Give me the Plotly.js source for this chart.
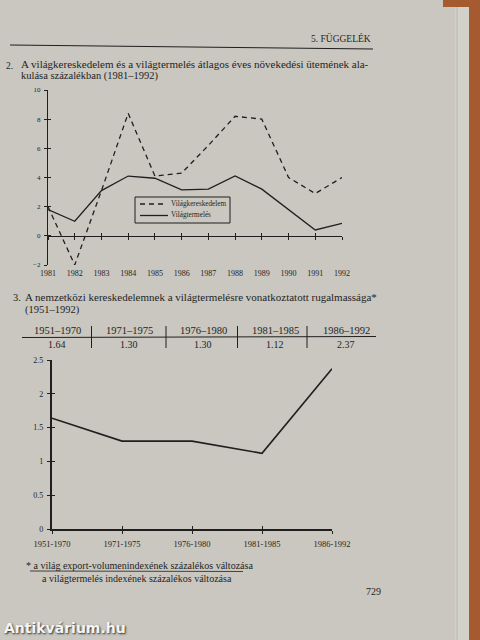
<!DOCTYPE html>
<html>
<head>
<meta charset="utf-8">
<script src="https://cdn.plot.ly/plotly-3.0.1.min.js"></script>
<style>
  html, body { margin: 0; padding: 0; background: #c9c7bf; }
  #chart { width: 480px; height: 640px; }
</style>
</head>
<body>
<div id="chart"></div>
<script>
// ---- Data ----
const years = [1981, 1982, 1983, 1984, 1985, 1986, 1987, 1988, 1989, 1990, 1991, 1992];
const tradeGrowth = [2.0, -2.0, 3.1, 8.4, 4.1, 4.3, 6.2, 8.2, 8.0, 4.0, 2.9, 4.0];
const outputGrowth = [1.8, 1.0, 3.1, 4.1, 3.95, 3.15, 3.2, 4.1, 3.2, 1.8, 0.4, 0.85];
const seriesNames = ['Világkereskedelem', 'Világtermelés'];
const yTicks1 = [-2, 0, 2, 4, 6, 8, 10];

const periods = ['1951-1970', '1971-1975', '1976-1980', '1981-1985', '1986-1992'];
const elasticity = [1.64, 1.30, 1.30, 1.12, 2.37];
const yTicks2 = [0, 0.5, 1, 1.5, 2, 2.5];

// ---- Helpers ----
const W = 480, H = 640;
const px = x => x / W;
const py = y => 1 - y / H;
const SERIF = 'Liberation Serif, DejaVu Serif, serif';
const INK = '#1f1f1f';

function txt(text, x, y, size, opts) {
  return Object.assign({
    text: text, xref: 'paper', yref: 'paper', x: px(x), y: py(y),
    showarrow: false, xanchor: 'left', yanchor: 'middle',
    font: { family: SERIF, size: size, color: INK }
  }, opts || {});
}

// ---- Traces ----
const ghost = { type: 'scatter', mode: 'lines', line: { width: 0 }, opacity: 0,
  hoverinfo: 'skip', showlegend: false };
const traces = [
  { x: years, y: tradeGrowth, name: seriesNames[0], type: 'scatter', mode: 'lines',
    line: { color: INK, width: 1.3, dash: '5px,4px' }, xaxis: 'x', yaxis: 'y', showlegend: false },
  { x: years, y: outputGrowth, name: seriesNames[1], type: 'scatter', mode: 'lines',
    line: { color: INK, width: 1.3 }, xaxis: 'x', yaxis: 'y', showlegend: false },
  { x: periods, y: elasticity, name: 'Rugalmasság', type: 'scatter', mode: 'lines',
    line: { color: INK, width: 1.6 }, xaxis: 'x2', yaxis: 'y2', showlegend: false },
  // invisible carriers so that the overlay tick axes are drawn
  Object.assign({ x: years, y: outputGrowth, xaxis: 'x3', yaxis: 'y3' }, ghost),
  Object.assign({ x: years, y: outputGrowth, xaxis: 'x4', yaxis: 'y' }, ghost),
  Object.assign({ x: periods, y: elasticity, xaxis: 'x5', yaxis: 'y4' }, ghost)
];

// ---- Geometry ----
const x1dom = [px(48), px(342)];
const y1dom = [py(265), py(90)];
const y1range = [-2, 10];
const zeroPos = y1dom[0] + (0 - y1range[0]) / (y1range[1] - y1range[0]) * (y1dom[1] - y1dom[0]);
const x2dom = [px(52), px(332)];
const y2dom = [py(529), py(360)];

const annotations = [];
const shapes = [];

// header
annotations.push(txt('5. FÜGGELÉK', 373, 39, 9.5, { xanchor: 'right' }));
shapes.push({ type: 'line', xref: 'paper', yref: 'paper', x0: px(10), y0: py(45), x1: px(373), y1: py(49),
  line: { color: INK, width: 1 } });

// titles
annotations.push(txt('2.', 4, 66, 9.5));
annotations.push(txt('A világkereskedelem és a világtermelés átlagos éves növekedési ütemének ala-', 19, 64, 11));
annotations.push(txt('kulása százalékban (1981–1992)', 19, 76, 10.5));

annotations.push(txt('3.', 11, 297, 10.5));
annotations.push(txt('A nemzetközi kereskedelemnek a világtermelésre vonatkoztatott rugalmassága*', 23, 297, 11));
annotations.push(txt('(1951–1992)', 23, 310, 10.5));

// manual legend box for chart 1
shapes.push({ type: 'rect', xref: 'paper', yref: 'paper', x0: px(135), x1: px(230), y0: py(223), y1: py(197),
  line: { color: INK, width: 1 }, fillcolor: 'rgba(0,0,0,0)' });
shapes.push({ type: 'line', xref: 'paper', yref: 'paper', x0: px(140), x1: px(165), y0: py(204), y1: py(204),
  line: { color: INK, width: 1.3, dash: '5px,4px' } });
shapes.push({ type: 'line', xref: 'paper', yref: 'paper', x0: px(140), x1: px(168), y0: py(215.5), y1: py(215.5),
  line: { color: INK, width: 1.3 } });
annotations.push(txt(seriesNames[0], 169, 204, 7.2));
annotations.push(txt(seriesNames[1], 169, 215, 7.2));

// table built from data
const colCenters = [57, 129, 203, 275, 346];
const seps = [91.5, 166, 237.5, 307];
periods.forEach((p, i) => {
  annotations.push(txt(p.replace('-', '–'), colCenters[i], 330, 10.5, { xanchor: 'center' }));
  annotations.push(txt(elasticity[i].toFixed(2), colCenters[i], 344, 10, { xanchor: 'center' }));
});
shapes.push({ type: 'line', xref: 'paper', yref: 'paper', x0: px(22), y0: py(337.5), x1: px(376), y1: py(336.5),
  line: { color: INK, width: 1 } });
seps.forEach(s => shapes.push({ type: 'line', xref: 'paper', yref: 'paper', x0: px(s), y0: py(326), x1: px(s), y1: py(348),
  line: { color: INK, width: 1 } }));

// footnote
annotations.push(txt('* a világ export-volumenindexének százalékos változása', 24, 565, 10));
shapes.push({ type: 'line', xref: 'paper', yref: 'paper', x0: px(30), y0: py(571), x1: px(243), y1: py(571.5),
  line: { color: INK, width: 0.8 } });
annotations.push(txt('a világtermelés indexének százalékos változása', 40, 578, 10));

// page number
annotations.push(txt('729', 373, 591, 10, { xanchor: 'center' }));

// watermark
annotations.push({ text: '<b>Antikvárium.hu</b>', xref: 'paper', yref: 'paper', x: px(2), y: py(628),
  showarrow: false, xanchor: 'left', yanchor: 'middle',
  font: { family: 'DejaVu Sans, sans-serif', size: 14, color: '#f4f4f4', shadow: '1px 1px 2px #2a2a2a' } });

// page edge
shapes.push({ type: 'rect', xref: 'paper', yref: 'paper', x0: px(455), x1: px(469), y0: 0, y1: 1,
  fillcolor: '#d1d0c9', line: { width: 0 }, layer: 'below' });
shapes.push({ type: 'line', xref: 'paper', yref: 'paper', x0: px(457), x1: px(457), y0: 0, y1: 1,
  line: { color: '#b9b8b0', width: 1 }, layer: 'below' });
shapes.push({ type: 'rect', xref: 'paper', yref: 'paper', x0: px(469), x1: 1, y0: 0, y1: 1,
  fillcolor: '#a55b2f', line: { width: 0 }, layer: 'below' });
shapes.push({ type: 'rect', xref: 'paper', yref: 'paper', x0: px(443), x1: 1, y0: py(7), y1: 1,
  fillcolor: '#a55b2f', line: { width: 0 }, layer: 'below' });

const tickFont = { family: SERIF, size: 8, color: INK };
const hiddenTickAxis = { showticklabels: false, showgrid: false, zeroline: false, tickcolor: INK, tickwidth: 1, ticklen: 3 };

const layout = {
  width: W, height: H,
  margin: { l: 0, r: 0, t: 0, b: 0 },
  paper_bgcolor: '#c9c7bf',
  plot_bgcolor: 'rgba(0,0,0,0)',
  showlegend: false,
  // chart 1
  xaxis: {
    domain: x1dom, range: [1981, 1992], anchor: 'y',
    tickvals: years, ticktext: years.map(String), tickfont: tickFont,
    showline: false, showgrid: false, zeroline: false, ticks: '', ticklabelstandoff: 2
  },
  xaxis3: Object.assign({
    overlaying: 'x', anchor: 'free', position: zeroPos, range: [1981, 1992],
    tickvals: years, showline: true, linecolor: INK, linewidth: 1.2, ticks: 'outside'
  }, hiddenTickAxis),
  xaxis4: Object.assign({
    overlaying: 'x', anchor: 'free', position: zeroPos, range: [1981, 1992],
    tickvals: years, showline: false, ticks: 'inside'
  }, hiddenTickAxis),
  yaxis: {
    domain: y1dom, range: y1range, anchor: 'x',
    tickvals: yTicks1, tickfont: { family: SERIF, size: 7, color: INK },
    showline: true, linecolor: INK, linewidth: 1.2,
    ticks: 'outside', ticklen: 3, tickcolor: INK, tickwidth: 1,
    showgrid: false, zeroline: false, ticklabelstandoff: 2
  },
  yaxis3: Object.assign({
    overlaying: 'y', anchor: 'x', range: y1range, tickvals: yTicks1, ticks: 'inside', showline: false
  }, hiddenTickAxis),
  // chart 2
  xaxis2: {
    domain: x2dom, anchor: 'y2', type: 'category', categoryarray: periods, range: [0, 4],
    tickfont: { family: SERIF, size: 8.5, color: INK },
    showline: true, linecolor: INK, linewidth: 1.6,
    ticks: 'outside', ticklen: 3, tickcolor: INK, tickwidth: 1,
    showgrid: false, zeroline: false, ticklabelstandoff: 3
  },
  xaxis5: Object.assign({
    overlaying: 'x2', anchor: 'y2', type: 'category', categoryarray: periods, range: [0, 4],
    showline: false, ticks: 'inside'
  }, hiddenTickAxis),
  yaxis2: {
    domain: y2dom, range: [0, 2.5], anchor: 'x2',
    tickvals: yTicks2, tickfont: { family: SERIF, size: 8, color: INK },
    showline: true, linecolor: INK, linewidth: 2.2,
    ticks: 'outside', ticklen: 3, tickcolor: INK, tickwidth: 1,
    showgrid: false, zeroline: false, ticklabelstandoff: 2
  },
  yaxis4: Object.assign({
    overlaying: 'y2', anchor: 'x2', range: [0, 2.5], tickvals: yTicks2, ticks: 'inside', showline: false
  }, hiddenTickAxis),
  annotations: annotations,
  shapes: shapes
};

Plotly.newPlot('chart', traces, layout, { displayModeBar: false, staticPlot: true });
</script>
</body>
</html>
